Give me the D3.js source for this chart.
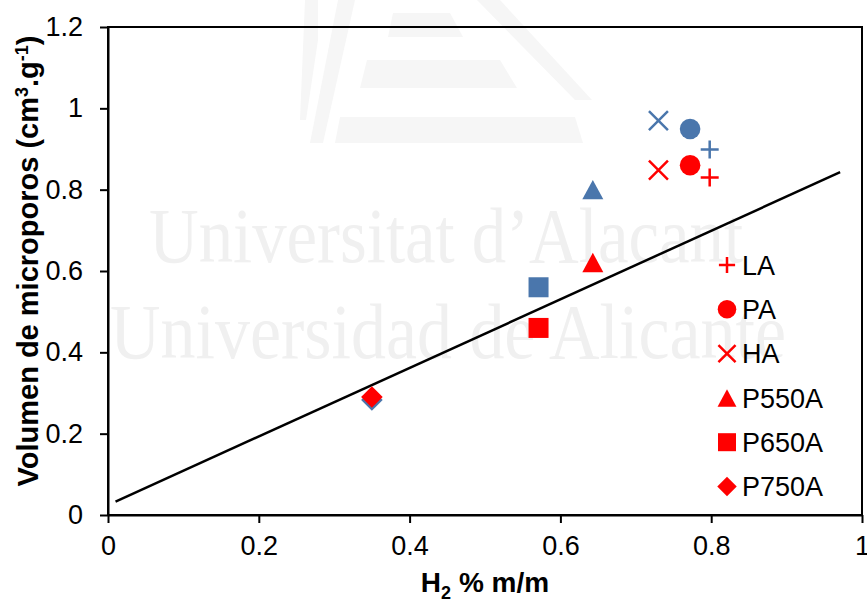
<!DOCTYPE html>
<html>
<head>
<meta charset="utf-8">
<script src="https://cdn.jsdelivr.net/npm/d3@7"></script>
<style>
  html, body { margin: 0; padding: 0; background: #ffffff; }
  svg { display: block; }
  text { font-family: "Liberation Sans", Arial, sans-serif; }
</style>
</head>
<body>
<svg id="chart" width="867" height="603"></svg>
<script>
// ---------------- data ----------------
const seriesNames = ["LA", "PA", "HA", "P550A", "P650A", "P750A"];
const shapes      = ["plus", "circle", "cross", "triangle", "square", "diamond"];
const h2Values    = [0.798, 0.772, 0.730, 0.643, 0.571, 0.350];
const blueValues  = [0.899, 0.949, 0.970, 0.800, 0.560, 0.283];
const redValues   = [0.830, 0.860, 0.848, 0.621, 0.460, 0.290];
const trendX      = [0.010, 0.971];
const trendY      = [0.033, 0.843];
const xTicks      = [0, 0.2, 0.4, 0.6, 0.8, 1];
const xTickLabels = ["0", "0.2", "0.4", "0.6", "0.8", "1"];
const yTicks      = [0, 0.2, 0.4, 0.6, 0.8, 1, 1.2];
const yTickLabels = ["0", "0.2", "0.4", "0.6", "0.8", "1", "1.2"];

const BLUE = "#4a76ac";
const RED = "#ff0000";

// ---------------- layout ----------------
const svg = d3.select("#chart");
const pLeft = 108, pRight = 862, pTop = 27, pBottom = 515;
const x = d3.scaleLinear().domain([0, 1]).range([pLeft, pRight]);
const y = d3.scaleLinear().domain([0, 1.2]).range([pBottom, pTop]);

// ---------------- watermark ----------------
const wm = svg.append("g").attr("class", "watermark");
const logoPolys = [
  [[393,13],[450,13],[463,37],[388,37]],
  [[367,60],[500,60],[517,88],[360,88]],
  [[340,117],[575,117],[583,143],[335,143]],
  [[477,0],[500,0],[592,100],[575,100]],
  [[338,0],[355,0],[323,143],[310,143]],
  [[305,0],[318,0],[318,40],[306,120],[300,120]]
];
wm.selectAll("polygon").data(logoPolys).join("polygon")
  .attr("points", d => d.map(p => p.join(",")).join(" "))
  .attr("fill", "#f6f6f6");
wm.append("text")
  .attr("x", 149).attr("y", 262)
  .attr("textLength", 594).attr("lengthAdjust", "spacingAndGlyphs")
  .style("font-family", "'Liberation Serif', 'Times New Roman', serif")
  .style("font-size", "78px").attr("fill", "#f0f0f0")
  .text("Universitat d\u2019Alacant");
wm.append("text")
  .attr("x", 110).attr("y", 358)
  .attr("textLength", 676).attr("lengthAdjust", "spacingAndGlyphs")
  .style("font-family", "'Liberation Serif', 'Times New Roman', serif")
  .style("font-size", "78px").attr("fill", "#f0f0f0")
  .text("Universidad de Alicante");

// ---------------- frame & axes ----------------
svg.append("rect")
  .attr("x", pLeft).attr("y", pTop)
  .attr("width", pRight - pLeft).attr("height", pBottom - pTop)
  .attr("fill", "none").attr("stroke", "#000").attr("stroke-width", 2);

const xAxis = d3.axisBottom(x).tickValues(xTicks)
  .tickFormat((d, i) => xTickLabels[i]).tickSize(8).tickPadding(13).tickSizeOuter(0);
const gx = svg.append("g").attr("transform", `translate(0,${pBottom})`).call(xAxis);
const yAxis = d3.axisLeft(y).tickValues(yTicks)
  .tickFormat((d, i) => yTickLabels[i]).tickSize(8).tickPadding(17).tickSizeOuter(0);
const gy = svg.append("g").attr("transform", `translate(${pLeft},0)`).call(yAxis);
[gx, gy].forEach(g => {
  g.select(".domain").attr("stroke", "#000").attr("stroke-width", 2);
  g.selectAll(".tick line").attr("stroke", "#000").attr("stroke-width", 2);
  g.selectAll(".tick text").attr("fill", "#000")
    .style("font-family", "'Liberation Sans', Arial, sans-serif")
    .style("font-size", "27px");
});
gx.selectAll(".tick text").attr("dy", "0.71em");

// axis titles
const xt = svg.append("text")
  .attr("x", 485).attr("y", 592).attr("text-anchor", "middle")
  .style("font-size", "28px").style("font-weight", "bold").attr("fill", "#000");
xt.append("tspan").text("H");
xt.append("tspan").attr("dy", 7).style("font-size", "18px").text("2");
xt.append("tspan").attr("dy", -7).text(" % m/m");

const yt = svg.append("text")
  .attr("transform", "translate(38,261) rotate(-90)").attr("text-anchor", "middle")
  .style("font-size", "29px").style("font-weight", "bold").attr("fill", "#000");
yt.append("tspan").text("Volumen de microporos (cm");
yt.append("tspan").attr("dy", -10).style("font-size", "18px").text("3");
yt.append("tspan").attr("dy", 10).text(".g");
yt.append("tspan").attr("dy", -10).style("font-size", "18px").text("-1");
yt.append("tspan").attr("dy", 10).text(")");

// ---------------- trend line ----------------
const line = d3.line().x(d => x(d[0])).y(d => y(d[1]));
svg.append("path")
  .datum(trendX.map((v, i) => [v, trendY[i]]))
  .attr("d", line).attr("fill", "none")
  .attr("stroke", "#000").attr("stroke-width", 2.5);

// ---------------- markers ----------------
function drawMarker(g, shape, cx, cy, color, s) {
  s = s || 1;
  if (shape === "plus") {
    const h = 9 * s;
    g.append("path").attr("d", `M${cx - h},${cy}H${cx + h}M${cx},${cy - h}V${cy + h}`)
      .attr("stroke", color).attr("stroke-width", 2.5).attr("fill", "none");
  } else if (shape === "cross") {
    const h = 9.5 * s;
    g.append("path").attr("d", `M${cx - h},${cy - h}L${cx + h},${cy + h}M${cx - h},${cy + h}L${cx + h},${cy - h}`)
      .attr("stroke", color).attr("stroke-width", 2.5).attr("fill", "none");
  } else if (shape === "circle") {
    g.append("circle").attr("cx", cx).attr("cy", cy).attr("r", 10.3 * s).attr("fill", color);
  } else if (shape === "square") {
    const h = 10 * s;
    g.append("rect").attr("x", cx - h).attr("y", cy - h).attr("width", 2 * h).attr("height", 2 * h).attr("fill", color);
  } else if (shape === "triangle") {
    const w = 10.5 * s, hh = 9.7 * s;
    g.append("path").attr("d", `M${cx},${cy - hh}L${cx + w},${cy + hh}L${cx - w},${cy + hh}Z`).attr("fill", color);
  } else if (shape === "diamond") {
    const h = 10.8 * s;
    g.append("path").attr("d", `M${cx},${cy - h}L${cx + h},${cy}L${cx},${cy + h}L${cx - h},${cy}Z`).attr("fill", color);
  }
}

const gBlue = svg.append("g");
seriesNames.forEach((n, i) => drawMarker(gBlue, shapes[i], x(h2Values[i]), y(blueValues[i]), BLUE));
const gRed = svg.append("g");
seriesNames.forEach((n, i) => drawMarker(gRed, shapes[i], x(h2Values[i]), y(redValues[i]), RED));

// ---------------- legend ----------------
const legend = svg.append("g");
seriesNames.forEach((n, i) => {
  const ly = 265 + i * 44.3;
  drawMarker(legend, shapes[i], 727, ly, RED, 0.9);
  legend.append("text").attr("x", 742).attr("y", ly).attr("dy", "0.36em")
    .style("font-size", "27px").attr("fill", "#000").text(n);
});
</script>
</body>
</html>
